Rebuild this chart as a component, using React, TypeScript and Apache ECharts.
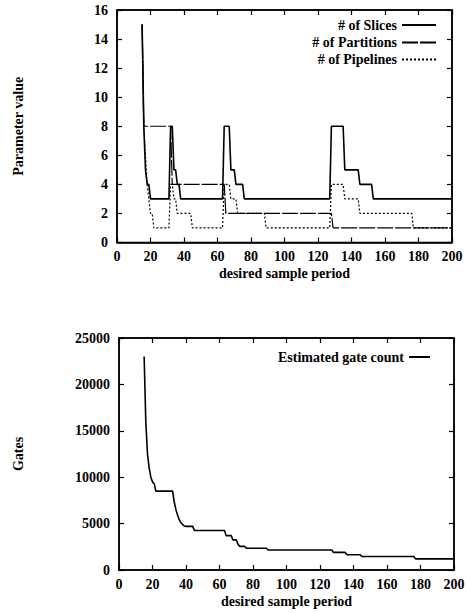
import React, { useEffect, useRef } from "react";
import * as echarts from "echarts";

// Top chart: parameter values vs desired sample period
const slicesData: [number, number][] = [
  [15, 15], [16, 8], [17, 5], [18, 4], [19, 4], [20, 3], [31, 3], [32, 8], [33, 8],
  [34, 5], [35, 5], [36, 4], [37, 4], [38, 3], [63, 3], [64, 8], [67, 8], [68, 5],
  [70, 5], [71, 4], [75, 4], [76, 3], [127, 3], [128, 8], [135, 8], [136, 5],
  [144, 5], [145, 4], [152, 4], [153, 3], [200, 3],
];
const partitionsData: [number, number][] = [
  [15, 15], [16, 8], [32, 8], [33, 4], [64, 4], [65, 2], [128, 2], [129, 1], [200, 1],
];
const pipelinesData: [number, number][] = [
  [15, 15], [16, 8], [17, 6], [18, 4], [19, 3], [20, 2], [21, 2], [22, 1], [31, 1],
  [32, 4], [33, 4], [34, 3], [35, 3], [36, 2], [44, 2], [45, 1], [63, 1], [64, 4],
  [67, 4], [68, 3], [71, 3], [72, 2], [88, 2], [89, 1], [127, 1], [128, 4], [135, 4],
  [136, 3], [144, 3], [145, 2], [176, 2], [177, 1], [200, 1],
];

// Bottom chart: estimated gate count
const gatesData: [number, number][] = [
  [15, 23000], [16, 16000], [17, 12500], [18, 11000], [19, 10000], [20, 9500],
  [21, 9300], [22, 8500], [32, 8500], [33, 7300], [34, 6500], [35, 5900], [36, 5400],
  [37, 5100], [38, 4900], [39, 4750], [40, 4700], [44, 4700], [45, 4250], [63, 4250],
  [64, 3700], [67, 3700], [68, 3250], [70, 3250], [71, 2800], [72, 2550], [75, 2550],
  [76, 2350], [88, 2350], [89, 2150], [127, 2150], [128, 1900], [135, 1900],
  [136, 1650], [144, 1650], [145, 1450], [176, 1450], [177, 1200], [200, 1200],
];

const seriesNames = ["# of Slices", "# of Partitions", "# of Pipelines"];
const gateName = "Estimated gate count";
const xTitle = "desired sample period";
const yTitleTop = "Parameter value";
const yTitleBottom = "Gates";

const FONT = "Liberation Serif";
const txt = { fontFamily: FONT, fontSize: 14, fontWeight: "bold" as const, color: "#000" };
const axisLineStyle = { color: "#000", width: 1.5 };
const tick = { inside: true, length: 5, lineStyle: { color: "#000", width: 1.2 } };

function xAxes(grid: number) {
  return [
    {
      gridIndex: grid, type: "value", min: 0, max: 200, interval: 20, position: "bottom",
      axisLine: { show: true, onZero: false, lineStyle: axisLineStyle },
      axisTick: tick, axisLabel: { ...txt, margin: 7 }, splitLine: { show: false },
      name: xTitle, nameLocation: "middle", nameGap: 24, nameTextStyle: { ...txt },
    },
    {
      gridIndex: grid, type: "value", min: 0, max: 200, interval: 20, position: "top",
      axisLine: { show: true, onZero: false, lineStyle: axisLineStyle },
      axisTick: tick, axisLabel: { show: false }, splitLine: { show: false },
    },
  ];
}

function yAxes(grid: number, max: number, interval: number, name: string, gap: number) {
  return [
    {
      gridIndex: grid, type: "value", min: 0, max, interval, position: "left",
      axisLine: { show: true, onZero: false, lineStyle: axisLineStyle },
      axisTick: tick,
      axisLabel: { ...txt, margin: 9, formatter: (v: number) => String(v) },
      splitLine: { show: false },
      name, nameLocation: "middle", nameGap: gap, nameTextStyle: { ...txt },
    },
    {
      gridIndex: grid, type: "value", min: 0, max, interval, position: "right",
      axisLine: { show: true, onZero: false, lineStyle: axisLineStyle },
      axisTick: tick, axisLabel: { show: false }, splitLine: { show: false },
    },
  ];
}

export default function App() {
  const ref = useRef<HTMLDivElement>(null);
  useEffect(() => {
    if (!ref.current) return;
    const chart = echarts.init(ref.current, null, { renderer: "svg" });
    const legendBase = {
      orient: "horizontal", align: "right", padding: 0, selectedMode: false,
      textStyle: { ...txt }, itemHeight: 10,
      itemStyle: { opacity: 0, borderWidth: 0 },
    };
    chart.setOption({
      animation: false,
      backgroundColor: "#fff",
      grid: [
        { left: 117, top: 10, width: 335, height: 232.5, show: true, borderColor: "#000", borderWidth: 1.5 },
        { left: 119, top: 338, width: 335, height: 232, show: true, borderColor: "#000", borderWidth: 1.5 },
      ],
      xAxis: [...xAxes(0), ...xAxes(1)],
      yAxis: [...yAxes(0, 16, 2, yTitleTop, 92), ...yAxes(1, 25000, 5000, yTitleBottom, 94)],
      legend: [
        { ...legendBase, data: [seriesNames[0]], right: 31, top: 18, itemWidth: 34 },
        { ...legendBase, data: [seriesNames[1]], right: 31, top: 35.5, itemWidth: 34 },
        { ...legendBase, data: [seriesNames[2]], right: 31, top: 52.5, itemWidth: 34 },
        { ...legendBase, data: [gateName], right: 37, top: 350, itemWidth: 21 },
      ],
      series: [
        {
          type: "line", name: seriesNames[0], xAxisIndex: 0, yAxisIndex: 0, data: slicesData,
          symbol: "none", lineStyle: { color: "#000", width: 1.6 }, itemStyle: { color: "#000" },
        },
        {
          type: "line", name: seriesNames[1], xAxisIndex: 0, yAxisIndex: 0, data: partitionsData,
          symbol: "none", lineStyle: { color: "#000", width: 1.2, type: [16, 2] }, itemStyle: { color: "#000" },
        },
        {
          type: "line", name: seriesNames[2], xAxisIndex: 0, yAxisIndex: 0, data: pipelinesData,
          symbol: "none", lineStyle: { color: "#000", width: 1.2, type: [2, 2] }, itemStyle: { color: "#000" },
        },
        {
          type: "line", name: gateName, xAxisIndex: 2, yAxisIndex: 2, data: gatesData,
          symbol: "none", lineStyle: { color: "#000", width: 1.6 }, itemStyle: { color: "#000" },
        },
      ],
    });
    return () => chart.dispose();
  }, []);
  return (
    <div
      ref={ref}
      style={{ position: "absolute", left: 0, top: 0, width: 468, height: 613, background: "#fff" }}
    />
  );
}
